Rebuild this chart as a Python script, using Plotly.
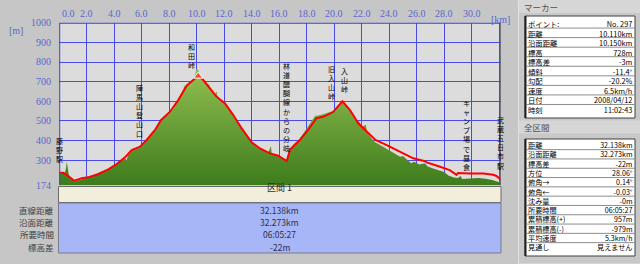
import plotly.graph_objects as go

# ---------------- data ----------------
# red track line (distance km, elevation m)
track_km = [0.0, 0.3, 0.66, 1.1, 1.64, 2.1, 2.85, 3.57, 4.18, 4.79, 5.27, 5.88, 6.36, 6.97,
            7.4, 8.06, 8.66, 9.27, 9.75, 10.11, 10.48, 10.97, 11.45, 12.06, 12.66, 13.27,
            14.0, 14.6, 15.33, 15.93, 16.45, 16.55, 16.79, 17.5, 18.1, 18.7, 19.2, 19.9,
            20.6, 21.15, 21.75, 22.36, 23.0, 23.82, 24.79, 25.75, 26.6, 26.73, 27.7, 28.4,
            28.9, 29.0, 29.9, 30.84, 31.57, 31.8, 32.06, 32.138]
track_m = [236, 236, 220, 196, 208, 213, 230, 254, 281, 315, 352, 369, 403, 454,
           504, 547, 606, 679, 708, 730, 708, 666, 623, 589, 530, 462,
           391, 360, 335, 323, 300, 296, 355, 403, 454, 513, 521, 544,
           600, 555, 488, 445, 403, 377, 342, 310, 295, 289, 267, 250,
           226, 235, 233, 232, 226, 220, 205, 200]

# green terrain profile (distance km, elevation m)
terrain_km = [0.0, 0.2, 0.4, 0.5, 0.55, 0.62, 0.7, 0.9, 1.1, 1.5, 2.0, 2.5, 3.0, 3.5, 4.0,
              4.5, 4.8, 4.9, 5.0, 5.3, 5.9, 6.4, 7.0, 7.4, 8.0, 8.3, 8.6, 9.0, 9.1, 9.2,
              9.5, 9.8, 10.0, 10.1, 10.3, 10.5, 10.8, 10.9, 11.0, 11.3, 11.45, 11.55, 11.9,
              12.1, 12.3, 12.6, 13.0, 13.3, 13.6, 14.0, 14.4, 14.8, 15.2, 15.4, 15.45, 15.9,
              16.3, 16.55, 16.75, 17.0, 17.5, 18.0, 18.5, 18.6, 19.0, 19.5, 19.9, 20.2, 20.6,
              21.0, 21.3, 21.6, 21.8, 22.0, 22.3, 22.4, 22.9, 23.5, 24.0, 24.5, 24.8, 25.0,
              25.3, 25.6, 25.8, 26.2, 26.6, 26.8, 27.2, 27.7, 28.0, 28.3, 28.7, 29.0, 29.2,
              29.3, 29.9, 30.5, 31.0, 31.5, 32.0, 32.138]
terrain_m = [228, 238, 232, 260, 295, 265, 225, 205, 192, 200, 210, 220, 233, 250, 272,
             298, 310, 300, 325, 350, 365, 400, 452, 503, 545, 560, 603, 655, 682, 670,
             695, 720, 767, 760, 725, 705, 680, 690, 665, 635, 650, 615, 595,
             580, 570, 530, 490, 455, 425, 390, 365, 350, 338, 372, 335, 322,
             305, 296, 345, 378, 410, 460, 510, 525, 530, 540, 550, 575, 603,
             565, 530, 495, 500, 470, 480, 440, 395, 370, 352, 330, 318, 322,
             305, 285, 292, 278, 285, 268, 258, 245, 240, 222, 212, 210, 220,
             205, 208, 210, 206, 200, 188, 185]

marker_km = [10.11]
marker_m = [728]

x_ticks = [0, 2, 4, 6, 8, 10, 12, 14, 16, 18, 20, 22, 24, 26, 28, 30]
x_tick_labels = ["0.0", "2.0", "4.0", "6.0", "8.0", "10.0", "12.0", "14.0", "16.0",
                 "18.0", "20.0", "22.0", "24.0", "26.0", "28.0", "30.0"]
y_ticks = [1000, 900, 800, 700, 600, 500, 400, 300, 174]
y_tick_labels = ["1000", "900", "800", "700", "600", "500", "400", "300", "174"]

waypoint_names = ["藤野駅", "陣馬山登山口", "和田峠", "林道醍醐線からの分岐",
                  "旧入山峠", "入山峠", "キャンプ場で昼食", "武蔵五日市駅"]
waypoint_km = [0.0, 5.83, 9.64, 16.55, 19.82, 20.73, 29.64, 32.06]

section_header = "区間 1"
section_labels = ["直線距離", "沿面距離", "所要時間", "標高差"]
section_values = ["32.138km", "32.273km", "06:05:27", "-22m"]

marker_title = "マーカー"
marker_labels = ["ポイント:", "距離", "沿面距離", "標高", "標高差", "傾斜", "勾配",
                 "速度", "日付", "時刻"]
marker_values = ["No. 297", "10.110km", "10.150km", "728m", "-3m", "-11.4°", "-20.2%",
                 "6.5km/h", "2008/04/12", "11:02:43"]

total_title = "全区間"
total_labels = ["距離", "沿面距離", "標高差", "方位", "俯角→", "俯角←", "沈み量",
                "所要時間", "累積標高(+)", "累積標高(-)", "平均速度", "見通し"]
total_values = ["32.138km", "32.273km", "-22m", "28.06°", "0.14°", "-0.03°", "-0m",
                "06:05:27", "957m", "-979m", "5.3km/h", "見えません"]

# ---------------- layout helpers ----------------
W, H = 640, 264
def px(x):
    return x / W
def py(y):
    return 1 - y / H

X0, X1 = 59.2, 500.7
Y0, Y1 = 22.7, 185.0
XMAX = 32.11
JP = "Noto Sans CJK JP"
AXIS_COL = "#5A66CC"
LINE_SPACING = 1.3  # plotly multi-line text spacing (em)

fig = go.Figure()

fig.add_trace(go.Scatter(
    x=terrain_km, y=terrain_m, mode="lines", line=dict(width=0, color="#6A9E34"),
    fill="tozeroy",
    fillgradient=dict(type="vertical", colorscale=[[0, "#3E7C1C"], [1, "#94C052"]],
                      start=174, stop=770),
    hoverinfo="skip"))
fig.add_trace(go.Scatter(
    x=track_km, y=track_m, mode="lines", line=dict(color="#FF0000", width=2)))
fig.add_trace(go.Scatter(
    x=marker_km, y=marker_m, mode="markers",
    marker=dict(symbol="triangle-up", size=8, color="#E8502A",
                line=dict(color="#FFFFFF", width=1))))

shapes = []
annotations = []

# plot borders
shapes.append(dict(type="line", xref="x", yref="y", x0=0, x1=XMAX, y0=1000, y1=1000,
                   line=dict(color="#3C3CE0", width=2)))
shapes.append(dict(type="line", xref="x", yref="y", x0=0, x1=0, y0=174, y1=1000,
                   line=dict(color="#3C3CE0", width=2)))
shapes.append(dict(type="line", xref="x", yref="y", x0=XMAX, x1=XMAX, y0=174, y1=1000,
                   line=dict(color="#505060", width=2)))

# axis labels
for v, t in zip(x_ticks, x_tick_labels):
    annotations.append(dict(xref="x", yref="paper", x=v, y=py(13.3), text=t,
                            showarrow=False, xanchor="left" if v == 0 else "center",
                            xshift=2 if v == 0 else 0, yanchor="middle", borderpad=0,
                            font=dict(family="Liberation Serif", size=10, color=AXIS_COL)))
for v, t in zip(y_ticks, y_tick_labels):
    annotations.append(dict(xref="paper", yref="y", x=px(51.5), y=v, text=t,
                            showarrow=False, xanchor="right", yanchor="middle",
                            borderpad=0,
                            font=dict(family="Liberation Serif", size=10, color=AXIS_COL)))
annotations.append(dict(xref="paper", yref="paper", x=px(8), y=py(24), text="[m]",
                        showarrow=False, borderpad=0,
                        font=dict(family="Liberation Serif", size=10, color=AXIS_COL)))
annotations.append(dict(xref="paper", yref="paper", x=px(511), y=py(13), text="[km]",
                        showarrow=False, borderpad=0,
                        font=dict(family="Liberation Serif", size=10, color=AXIS_COL)))

# vertical waypoint labels: one glyph per line, centred at given pixel height
label_mid_y = [149.5, 110.7, 56, 106.8, 82.5, 80, 135, 142.5]
for name, km, mid in zip(waypoint_names, waypoint_km, label_mid_y):
    annotations.append(dict(xref="x", yref="paper", x=km, y=py(mid),
                            text="<br>".join(name), showarrow=False, xanchor="center",
                            yanchor="middle", align="center", borderpad=0,
                            font=dict(family=JP, size=7, color="#000000")))

# bottom section table
shapes.append(dict(type="rect", xref="paper", yref="paper", x0=px(58.5), x1=px(501),
                   y0=py(186.5), y1=py(202.5), fillcolor="#F2EEDC",
                   line=dict(color="#6A6A6A", width=1)))
shapes.append(dict(type="rect", xref="paper", yref="paper", x0=px(58.5), x1=px(501),
                   y0=py(203), y1=py(253), fillcolor="#A6B6F6",
                   line=dict(color="#7A7A8A", width=1)))
annotations.append(dict(xref="paper", yref="paper", x=px(279.5), y=py(194.5),
                        text=section_header, showarrow=False, borderpad=0,
                        font=dict(family=JP, size=9, color="#303030")))
sec_step = 12.4
sec_first = 209.5
for i, (lab, val) in enumerate(zip(section_labels, section_values)):
    yc = sec_first + i * sec_step
    annotations.append(dict(xref="paper", yref="paper", x=px(55), y=py(yc), text=lab,
                            showarrow=False, xanchor="right", yanchor="middle",
                            borderpad=0,
                            font=dict(family=JP, size=8.5, color="#404040")))
    annotations.append(dict(xref="paper", yref="paper", x=px(279.5), y=py(yc), text=val,
                            showarrow=False, xanchor="center", yanchor="middle",
                            borderpad=0,
                            font=dict(family=JP, size=8.5, color="#303048")))

# right panel
shapes.append(dict(type="rect", xref="paper", yref="paper", x0=px(518.5), x1=px(641),
                   y0=py(0), y1=py(264), fillcolor="#C8C8C8",
                   line=dict(color="#E2E2E2", width=1)))

def side_table(title, title_y, top, labels, values, first_c, step, bottom):
    shapes.append(dict(type="rect", xref="paper", yref="paper", x0=px(519), x1=px(640),
                       y0=py(title_y - 6.5), y1=py(title_y + 6.5), fillcolor="#D6D6D6",
                       line=dict(width=0)))
    annotations.append(dict(xref="paper", yref="paper", x=px(523), y=py(title_y),
                            text=title, showarrow=False, xanchor="left",
                            yanchor="middle", borderpad=0,
                            font=dict(family=JP, size=8.5, color="#505050")))
    shapes.append(dict(type="rect", xref="paper", yref="paper", x0=px(525), x1=px(635),
                       y0=py(top), y1=py(bottom), fillcolor="#FFFFFF",
                       line=dict(color="#404040", width=1)))
    shapes.append(dict(type="line", xref="paper", yref="paper", x0=px(525.5),
                       x1=px(525.5), y0=py(top), y1=py(bottom),
                       line=dict(color="#202020", width=2)))
    for i in range(len(labels) - 1):
        yl = first_c + i * step + step / 2
        shapes.append(dict(type="line", xref="paper", yref="paper", x0=px(526),
                           x1=px(634.5), y0=py(yl), y1=py(yl),
                           line=dict(color="#8C8C8C", width=1)))
    mid = first_c + (len(labels) - 1) * step / 2
    fsize = step / LINE_SPACING
    annotations.append(dict(xref="paper", yref="paper", x=px(527), y=py(mid),
                            text="<br>".join(labels), showarrow=False, xanchor="left",
                            yanchor="middle", align="left", borderpad=0,
                            font=dict(family=JP, size=fsize, color="#000000")))
    annotations.append(dict(xref="paper", yref="paper", x=px(634), y=py(mid),
                            text="<br>".join(values), showarrow=False, xanchor="right",
                            yanchor="middle", align="right", borderpad=0,
                            font=dict(family=JP, size=fsize, color="#000000")))

side_table(marker_title, 6.5, 16, marker_labels, marker_values, 23.3, 9.55, 118)
side_table(total_title, 127, 139, total_labels, total_values, 145, 9.3, 256)

fig.update_layout(
    width=W, height=H, margin=dict(l=0, r=0, t=0, b=0),
    paper_bgcolor="#C6C6C6", plot_bgcolor="#DCDCDC", showlegend=False,
    xaxis=dict(domain=[px(X0), px(X1)], range=[0, XMAX], tickvals=x_ticks + [32],
               showticklabels=False, ticks="", showgrid=True, gridcolor="#4A4AE6",
               gridwidth=1, zeroline=False, showline=False, fixedrange=True),
    yaxis=dict(domain=[py(Y1), py(Y0)], range=[174, 1000],
               tickvals=[300, 400, 500, 600, 700, 800, 900], showticklabels=False,
               ticks="", showgrid=True, gridcolor="#4A4AE6", gridwidth=1,
               zeroline=False, showline=False, fixedrange=True),
    shapes=shapes, annotations=annotations,
)

fig.write_html("out.html")
